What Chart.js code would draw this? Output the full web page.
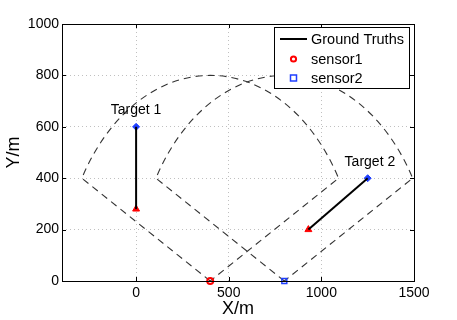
<!DOCTYPE html>
<html>
<head>
<meta charset="utf-8">
<script src="https://cdn.jsdelivr.net/npm/chart.js@4.4.0/dist/chart.umd.min.js"></script>
<style>
  html, body { margin: 0; padding: 0; background: #fff; }
</style>
</head>
<body>
<canvas id="trackChart" width="457" height="320"></canvas>
<script>
// Axis ticks
const xTicks = [0, 500, 1000, 1500];
const yTicks = [0, 200, 400, 600, 800, 1000];

// Sensors (position, range, field of view in degrees)
const sensorNames = ['sensor1', 'sensor2'];
const sensorX = [400, 800];
const sensorY = [0, 0];
const sensorRange = [800, 800];
const sensorFov = [30, 150];

// Ground truth tracks (start -> end)
const target1X = [0, 0];
const target1Y = [280, 600];
const target2X = [930, 1250];
const target2Y = [200, 400];

// Target labels
const targetNames = ['Target 1', 'Target 2'];
const labelX = [0, 1262];
const labelY = [665, 463];

const FONT = 'Liberation Sans, Arial, Helvetica, sans-serif';
const RED = '#ff0000';
const BLUE = '#1f3fff';

function pts(xs, ys) {
    return xs.map((v, i) => ({ x: v, y: ys[i] }));
}

// dashed sensor coverage sectors, drawn under the data
const sectorPlugin = {
    id: 'sectors',
    beforeDatasetsDraw(chart) {
        const { ctx, scales: { x, y } } = chart;
        ctx.save();
        ctx.strokeStyle = '#333';
        ctx.lineWidth = 1.1;
        ctx.setLineDash([7, 5]);
        for (let i = 0; i < sensorX.length; i++) {
            const cx = x.getPixelForValue(sensorX[i]);
            const cy = y.getPixelForValue(sensorY[i]);
            const rx = x.getPixelForValue(sensorX[i] + sensorRange[i]) - cx;
            const ry = cy - y.getPixelForValue(sensorY[i] + sensorRange[i]);
            const a0 = sensorFov[1] * Math.PI / 180;
            const a1 = sensorFov[0] * Math.PI / 180;
            ctx.beginPath();
            ctx.moveTo(cx, cy);
            ctx.ellipse(cx, cy, rx, ry, 0, -a0, -a1, false);
            ctx.closePath();
            ctx.stroke();
        }
        ctx.restore();
    }
};

// box, inner ticks, target labels, legend
const decorPlugin = {
    id: 'decor',
    afterDraw(chart) {
        const { ctx, chartArea: a, scales: { x, y } } = chart;
        ctx.save();
        ctx.strokeStyle = '#000';
        ctx.lineWidth = 1;
        ctx.setLineDash([]);
        ctx.strokeRect(a.left + 0.5, a.top + 0.5, a.right - a.left, a.bottom - a.top);

        // inner tick marks like matlab
        ctx.beginPath();
        xTicks.forEach(t => {
            const px = Math.round(x.getPixelForValue(t)) + 0.5;
            ctx.moveTo(px, a.bottom); ctx.lineTo(px, a.bottom - 4);
            ctx.moveTo(px, a.top); ctx.lineTo(px, a.top + 4);
        });
        yTicks.forEach(t => {
            const py = Math.round(y.getPixelForValue(t)) + 0.5;
            ctx.moveTo(a.left, py); ctx.lineTo(a.left + 4, py);
            ctx.moveTo(a.right, py); ctx.lineTo(a.right - 4, py);
        });
        ctx.stroke();

        // target labels
        ctx.fillStyle = '#000';
        ctx.font = '14px ' + FONT;
        ctx.textAlign = 'center';
        ctx.textBaseline = 'middle';
        targetNames.forEach((n, i) => {
            ctx.fillText(n, x.getPixelForValue(labelX[i]), y.getPixelForValue(labelY[i]));
        });

        // legend
        const lx = 274, ly = 27, lw = 135, lh = 61;
        ctx.fillStyle = '#fff';
        ctx.fillRect(lx, ly, lw, lh);
        ctx.strokeStyle = '#000';
        ctx.strokeRect(lx + 0.5, ly + 0.5, lw, lh);

        ctx.font = '14.5px ' + FONT;
        ctx.textAlign = 'left';
        ctx.fillStyle = '#000';

        ctx.lineWidth = 2;
        ctx.beginPath();
        ctx.moveTo(280, 39); ctx.lineTo(307, 39);
        ctx.stroke();
        ctx.fillText('Ground Truths', 311, 40);

        ctx.lineWidth = 2;
        ctx.strokeStyle = RED;
        ctx.beginPath();
        ctx.arc(293.5, 59, 2.6, 0, Math.PI * 2);
        ctx.stroke();
        ctx.fillStyle = '#000';
        ctx.fillText(sensorNames[0], 311, 60);

        ctx.lineWidth = 1.5;
        ctx.strokeStyle = BLUE;
        ctx.strokeRect(290.5, 75, 6, 6);
        ctx.fillText(sensorNames[1], 311, 79);
        ctx.restore();
    }
};

const ctx = document.getElementById('trackChart').getContext('2d');

new Chart(ctx, {
    type: 'scatter',
    data: {
        datasets: [
            {
                label: 'Ground Truths',
                data: pts(target1X, target1Y),
                showLine: true,
                borderColor: '#000',
                borderWidth: 2,
                pointRadius: 0
            },
            {
                label: 'Ground Truths 2',
                data: pts(target2X, target2Y),
                showLine: true,
                borderColor: '#000',
                borderWidth: 2,
                pointRadius: 0
            },
            {
                label: 'start',
                data: [{ x: target1X[0], y: target1Y[0] }, { x: target2X[0], y: target2Y[0] }],
                pointStyle: 'triangle',
                pointRadius: 4,
                backgroundColor: RED,
                borderColor: RED,
                borderWidth: 1
            },
            {
                label: 'end',
                data: [{ x: target1X[1], y: target1Y[1] }, { x: target2X[1], y: target2Y[1] }],
                pointStyle: 'rectRot',
                pointRadius: 3.5,
                backgroundColor: BLUE,
                borderColor: BLUE,
                borderWidth: 1
            },
            {
                label: sensorNames[0],
                data: [{ x: sensorX[0], y: sensorY[0] }],
                pointStyle: 'circle',
                pointRadius: 3,
                backgroundColor: 'rgba(0,0,0,0)',
                borderColor: RED,
                borderWidth: 2,
                clip: false
            },
            {
                label: sensorNames[1],
                data: [{ x: sensorX[1], y: sensorY[1] }],
                pointStyle: 'rect',
                pointRadius: 3.5,
                backgroundColor: 'rgba(0,0,0,0)',
                borderColor: BLUE,
                borderWidth: 1.5,
                clip: false
            }
        ]
    },
    options: {
        responsive: false,
        animation: false,
        devicePixelRatio: 1,
        layout: { padding: { top: 24, right: 43, left: 0, bottom: 0 } },
        plugins: {
            legend: { display: false },
            tooltip: { enabled: false }
        },
        scales: {
            x: {
                type: 'linear',
                min: -400,
                max: 1500,
                afterBuildTicks: s => { s.ticks = xTicks.map(v => ({ value: v })); },
                afterFit: s => { s.height = 39; },
                grid: { color: '#c0c0c0', drawTicks: false },
                border: { display: false, dash: [1, 3] },
                ticks: {
                    color: '#000', font: { family: FONT, size: 14 }, padding: 4, maxRotation: 0,
                    callback: v => String(v)
                },
                title: {
                    display: true, text: 'X/m', color: '#000',
                    font: { family: FONT, size: 18 }, padding: { top: 0, bottom: 0 }
                }
            },
            y: {
                type: 'linear',
                min: 0,
                max: 1000,
                afterBuildTicks: s => { s.ticks = yTicks.map(v => ({ value: v })); },
                afterFit: s => { s.width = 62; },
                grid: { color: '#c0c0c0', drawTicks: false },
                border: { display: false, dash: [1, 3] },
                ticks: {
                    color: '#000', font: { family: FONT, size: 14 }, padding: 3,
                    callback: v => String(v)
                },
                title: {
                    display: true, text: 'Y/m', color: '#000',
                    font: { family: FONT, size: 18 }, padding: { top: 3, bottom: 0 }
                }
            }
        }
    },
    plugins: [sectorPlugin, decorPlugin]
});
</script>
</body>
</html>
